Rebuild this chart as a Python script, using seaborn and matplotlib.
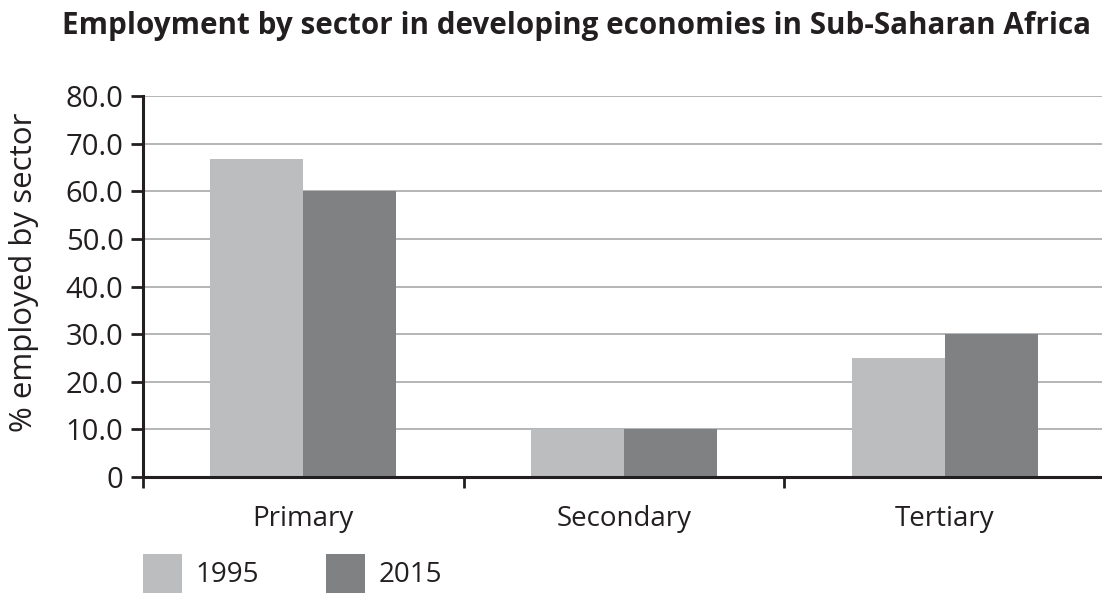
import matplotlib
matplotlib.use("Agg")
import matplotlib.pyplot as plt
import seaborn as sns
import pandas as pd
from matplotlib.patches import Patch

# ---- data ----
sectors = ["Primary", "Secondary", "Tertiary"]
years = ["1995", "2015"]
values_1995 = [66.7, 10.0, 25.0]
values_2015 = [60.0, 10.0, 30.0]
y_ticks = [0, 10, 20, 30, 40, 50, 60, 70, 80]
y_tick_labels = ["0", "10.0", "20.0", "30.0", "40.0", "50.0", "60.0", "70.0", "80.0"]
title = "Employment by sector in developing economies in Sub-Saharan Africa"
y_label = "% employed by sector"

df = pd.DataFrame({
    "Sector": sectors * 2,
    "Year": [years[0]] * len(sectors) + [years[1]] * len(sectors),
    "Value": values_1995 + values_2015,
})

colors = ["#bcbdbf", "#808183"]
ink = "#231f20"

sns.set_theme(style="white")
plt.rcParams['font.family'] = ['Open Sans', 'DejaVu Sans']

fig = plt.figure(figsize=(11.02, 5.95), dpi=100)
ax = fig.add_axes([143 / 1102, 1 - 477 / 595, 962 / 1102, (477 - 96) / 595])

sns.barplot(data=df, x="Sector", y="Value", hue="Year", palette=colors,
            width=0.58, saturation=1, ax=ax, legend=False,
            linewidth=0, edgecolor="none", zorder=3)

ax.set_xlim(-0.5, 2.5)
ax.set_ylim(0, 80)
ax.set_yticks(y_ticks)
ax.set_yticklabels(y_tick_labels)
ax.set_axisbelow(True)
ax.yaxis.grid(True, color="#a7a9ac", linewidth=1.2, zorder=0)
ax.xaxis.grid(False)

for s in ["top", "right"]:
    ax.spines[s].set_visible(False)
for s in ["left", "bottom"]:
    ax.spines[s].set_color(ink)
    ax.spines[s].set_linewidth(2.2)
    ax.spines[s].set_zorder(5)

ax.set_xlabel("")
ax.set_ylabel("")

ax.tick_params(axis="y", direction="out", length=9, width=2, color=ink,
               labelsize=21, labelcolor=ink, pad=5, left=True)
ax.tick_params(axis="x", which="major", length=0, labelsize=20,
               labelcolor=ink, pad=20)
ax.set_xticks([-0.5, 0.5, 1.5, 2.5], minor=True)
ax.tick_params(axis="x", which="minor", direction="out", length=8, width=2,
               color=ink, bottom=True)

fig.text(62 / 1102, 1 - 11 / 595, title, ha="left", va="top",
         fontsize=21.3, fontweight="bold", color=ink)
fig.text(24 / 1102, 1 - 272 / 595, y_label, rotation=90, ha="center",
         va="center", fontsize=22.5, color=ink)

handles = [Patch(facecolor=colors[0], edgecolor="none", label=years[0]),
           Patch(facecolor=colors[1], edgecolor="none", label=years[1])]
fig.legend(handles=handles, loc="lower left",
           bbox_to_anchor=(143 / 1102, 2 / 595), ncol=2, frameon=False,
           fontsize=20, handlelength=1.4, handleheight=1.8,
           handletextpad=0.5, columnspacing=2.4, borderpad=0,
           borderaxespad=0, labelcolor=ink)

fig.savefig("out.png", dpi=100)
